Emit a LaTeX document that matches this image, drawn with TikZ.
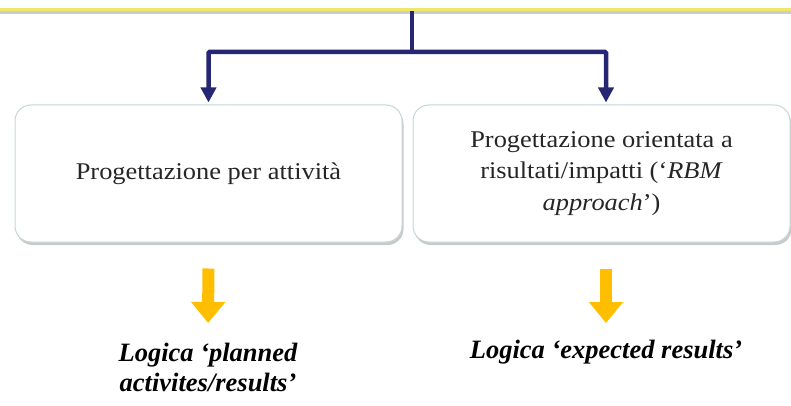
\documentclass[tikz,border=0pt]{standalone}
\usepackage{fontspec}
\setmainfont{Liberation Serif}
\newfontfamily\boxfont[FakeStretch=1.1]{Liberation Serif}
\usetikzlibrary{arrows.meta,shadows,positioning}
\definecolor{navyarrow}{HTML}{262673}
\definecolor{goldarrow}{HTML}{FFBF00}
\definecolor{topline}{HTML}{EEE86A}
\definecolor{boxline}{HTML}{C5D6DA}
\tikzset{
  x=1pt,y=-1pt,
  boxstyle/.style={draw=boxline, line width=1pt, fill=white, rounded corners=16pt,
    drop shadow={shadow xshift=1.5pt, shadow yshift=-3pt, fill=black!35, opacity=0.6},
    align=center, font=\boxfont\fontsize{24}{31.5}\selectfont, text=black!85, inner sep=0pt},
  navyconn/.style={draw=navyarrow, line width=4.5pt,
    -{Triangle[length=15pt 0 0, width=15pt 0 0]}},
  goldconn/.style={draw=goldarrow, line width=12pt,
    -{Triangle[length=21pt 0 0, width=33pt 0 0]}},
  logictext/.style={align=center, font=\fontsize{26.5}{30}\selectfont\bfseries\itshape, inner sep=0pt},
}
\begin{document}
\begin{tikzpicture}
\useasboundingbox (0,0) rectangle (791,406);
% top yellow line with soft shadow
\draw[black!20, line width=3pt] (0,13) -- (791,13);
\draw[topline, line width=3pt] (0,10) -- (791,10);
% boxes
\node[boxstyle, minimum width=387pt, minimum height=137pt] (L) at (208.5,173.5)
  {Progettazione per attività};
\node[boxstyle, minimum width=377pt, minimum height=137pt] (R) at (601.5,173.5)
  {Progettazione orientata a\\ risultati/impatti (‘\textit{RBM}\\ \textit{approach}’)};
% navy connectors
\coordinate (top) at (412,11);
\coordinate (split) at (412,52);
\coordinate (Rin) at ([xshift=4.5pt]R.north);
\draw[navyarrow, line width=4.5pt] (top) -- (split);
\draw[navyconn, rounded corners=1pt] (split) -| ([yshift=2pt]L.north);
\draw[navyconn, rounded corners=1pt] (split) -| ([yshift=2pt]Rin);
% bottom texts
\node[logictext, anchor=north] (LL) at (208,343) {Logica ‘planned\\ activites/results’};
\node[logictext, anchor=north] (RL) at (606,340) {Logica ‘expected results’};
% gold arrows
\draw[goldconn, shorten <=26pt, shorten >=20pt] (L.south) -- (LL.north);
\draw[goldconn, shorten <=26pt, shorten >=17pt] (Rin |- R.south) -- (RL.north);
\end{tikzpicture}
\end{document}
